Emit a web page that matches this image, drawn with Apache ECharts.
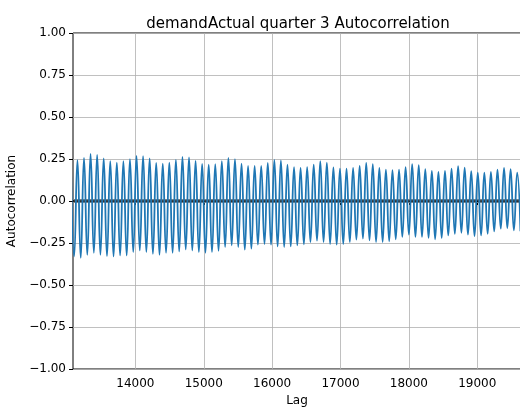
<!DOCTYPE html>
<html>
<head>
<meta charset="utf-8">
<script src="https://cdn.jsdelivr.net/npm/echarts@6/dist/echarts.min.js"></script>
<style>
html,body{margin:0;padding:0;background:#fff;}
#chart{width:520px;height:409px;}
</style>
</head>
<body>
<div id="chart"></div>
<script>
// Lags of the first daily peak (in steps of one daily cycle of 96 lags)
const firstPeakLag = 13056;
const cycleLength = 96;
// Peak (cycle maximum) autocorrelation values, one per daily cycle
const peaks = [
  0.235, 0.243, 0.257, 0.280, 0.274, 0.253, 0.237, 0.229, 0.237, 0.249,
  0.268, 0.267, 0.253, 0.227, 0.223, 0.229, 0.245, 0.262, 0.259, 0.239,
  0.221, 0.217, 0.219, 0.237, 0.257, 0.249, 0.223, 0.209, 0.209, 0.209,
  0.227, 0.245, 0.241, 0.217, 0.201, 0.197, 0.201, 0.217, 0.237, 0.229,
  0.200, 0.193, 0.193, 0.197, 0.209, 0.227, 0.219, 0.197, 0.187, 0.183,
  0.187, 0.201, 0.219, 0.213, 0.190, 0.179, 0.173, 0.179, 0.193, 0.207,
  0.199, 0.177, 0.169, 0.169, 0.173, 0.187, 0.197, 0.189, 0.169
];
// Trough (cycle minimum) values, half a cycle after each peak
const troughs = [
  -0.330, -0.338, -0.320, -0.308, -0.320, -0.328, -0.330, -0.324, -0.324, -0.304,
  -0.294, -0.304, -0.314, -0.320, -0.308, -0.308, -0.300, -0.288, -0.294, -0.304,
  -0.308, -0.304, -0.296, -0.274, -0.264, -0.274, -0.290, -0.284, -0.260, -0.256,
  -0.260, -0.270, -0.274, -0.270, -0.264, -0.258, -0.244, -0.236, -0.244, -0.256,
  -0.260, -0.256, -0.244, -0.230, -0.224, -0.234, -0.244, -0.244, -0.240, -0.228,
  -0.214, -0.200, -0.214, -0.214, -0.220, -0.228, -0.220, -0.205, -0.195, -0.189,
  -0.200, -0.209, -0.205, -0.195, -0.181, -0.165, -0.161, -0.175, -0.180
];
const xTicks = [14000, 15000, 16000, 17000, 18000, 19000];
const yTicks = [-1, -0.75, -0.5, -0.25, 0, 0.25, 0.5, 0.75, 1];
const nObs = 35000;
const z95 = 1.959963984540054, z99 = 2.5758293035489004;

const acf = [];
for (let i = 0; i < peaks.length; i++) {
  acf.push([firstPeakLag + i * cycleLength, peaks[i]]);
  acf.push([firstPeakLag + i * cycleLength + cycleLength / 2, troughs[i]]);
}
const c95 = z95 / Math.sqrt(nObs), c99 = z99 / Math.sqrt(nObs);

const font = 'DejaVu Sans';
const fmt = v => v.toFixed(2).replace('-', '\u2212');
const chart = echarts.init(document.getElementById('chart'), null, {renderer: 'canvas'});
chart.setOption({
  animation: false,
  title: {
    text: 'demandActual quarter 3 Autocorrelation',
    left: 293, top: 12, textAlign: 'center',
    textStyle: {fontFamily: font, fontSize: 15, fontWeight: 'normal', color: '#000'}
  },
  grid: {left: 73, right: -1, top: 33, bottom: 40, containLabel: false, outerBoundsMode: 'none',
         show: true, borderColor: '#000', borderWidth: 1, backgroundColor: 'transparent'},
  xAxis: {
    type: 'value', min: 13087, max: 19640,
    name: 'Lag', nameLocation: 'middle', nameGap: 24,
    nameTextStyle: {fontFamily: font, fontSize: 12, color: '#000'},
    axisLine: {show: false},
    axisTick: {show: true, length: 4, inside: false, customValues: xTicks, lineStyle: {color: '#000', width: 1}},
    axisLabel: {customValues: xTicks, margin: 9, formatter: v => String(v), fontFamily: font, fontSize: 12, color: '#000'},
    splitLine: {show: true, lineStyle: {color: '#b0b0b0', width: 0.8}}
  },
  yAxis: {
    type: 'value', min: -1, max: 1, interval: 0.25,
    name: 'Autocorrelation', nameLocation: 'middle', nameGap: 51,
    nameTextStyle: {fontFamily: font, fontSize: 12, color: '#000'},
    axisLine: {show: false},
    axisTick: {show: true, length: 4, lineStyle: {color: '#000', width: 1}},
    axisLabel: {margin: 7, formatter: fmt, fontFamily: font, fontSize: 12, color: '#000'},
    splitLine: {show: true, lineStyle: {color: '#b0b0b0', width: 0.8}}
  },
  series: [
    {
      type: 'line', data: [], z: 1, silent: true,
      markLine: {
        silent: true, symbol: 'none', z: 1, animation: false,
        label: {show: false},
        data: [
          {yAxis: c99, lineStyle: {color: '#808080', type: [4, 2], width: 1}},
          {yAxis: c95, lineStyle: {color: '#808080', type: 'solid', width: 1}},
          {yAxis: 0, lineStyle: {color: '#000', type: 'solid', width: 1.5}},
          {yAxis: -c95, lineStyle: {color: '#808080', type: 'solid', width: 1}},
          {yAxis: -c99, lineStyle: {color: '#808080', type: [4, 2], width: 1}}
        ]
      }
    },
    {
      type: 'line', data: acf, z: 3, showSymbol: false, smooth: 0.5,
      sampling: null, clip: true,
      lineStyle: {color: '#1f77b4', width: 1.8}
    }
  ]
});
</script>
</body>
</html>
